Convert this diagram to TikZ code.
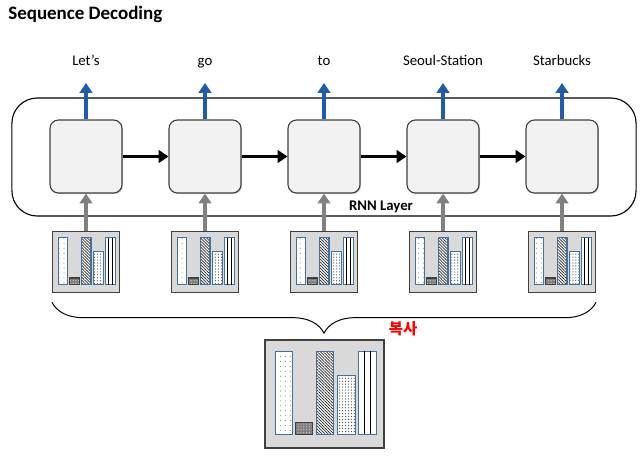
\documentclass[tikz,border=0pt]{standalone}
\usepackage{fontspec}
\setmainfont{Carlito}
\newfontfamily\kofont{Noto Sans CJK KR}
\usetikzlibrary{arrows.meta,patterns.meta,decorations.pathreplacing,shadows}
\definecolor{cellgray}{HTML}{F2F2F2}
\definecolor{boxgray}{HTML}{D9D9D9}
\definecolor{outblue}{HTML}{1F5CAD}
\definecolor{bargray}{HTML}{7F7F7F}
\definecolor{barline}{HTML}{41719C}
\definecolor{rnnarrow}{HTML}{808080}

\tikzset{
	bar/.style={draw=barline, line width=0.8pt},
	chart/.pic={
		% white bar, sparse dots
		\path[bar, preaction={fill=white}, pattern={Dots[radius=0.4pt,distance=3.5pt]}, pattern color=black!45] (11,12) rectangle (28,95);
		% small dark bar
		\path[bar, draw=black!75, preaction={fill=bargray}, pattern={Dots[radius=0.45pt,distance=2pt]}, pattern color=black!20] (31,83) rectangle (48,95);
		% hatched bar
		\path[bar, preaction={fill=white}, pattern={Lines[angle=-45,distance=1.5pt,line width=0.5pt]}, pattern color=black!85] (52,12) rectangle (69,95);
		% dense dots
		\path[bar, preaction={fill=white}, pattern={Dots[radius=0.45pt,distance=2.1pt]}, pattern color=black!70] (73,36) rectangle (91,95);
		% vertical lines
		\path[bar, fill=white] (94,12) rectangle (112,95);
		\draw[line width=0.7pt] (100,12) -- (100,95) (106,12) -- (106,95);
	}
}

\begin{document}
\begin{tikzpicture}[
		x=0.025cm, y=-0.025cm,
		every node/.style={inner sep=0},
		layer/.style={draw=black, line width=0.8pt, rounded corners=18pt, minimum width=15.6cm, minimum height=2.95cm},
		cell/.style={draw=black!75, line width=0.8pt, fill=cellgray, rounded corners=6pt, minimum width=1.8cm, minimum height=1.825cm,
			drop shadow={shadow xshift=0.8pt, shadow yshift=-0.8pt, opacity=0.35}},
		inbox/.style={draw=black!75, line width=0.8pt, fill=boxgray, minimum width=1.675cm, minimum height=1.525cm},
		word/.style={font=\fontsize{10.5pt}{12pt}\selectfont, text height=7.5pt, text depth=2pt},
		outarrow/.style={draw=outblue, line width=2.8pt, -{Triangle[length=7pt,width=9pt]}, shorten >=10pt},
		inarrow/.style={draw=rnnarrow, line width=2.8pt, -{Triangle[length=7pt,width=9pt]}},
		steparrow/.style={draw=black, line width=2.8pt, -{Triangle[length=7pt,width=9pt]}},
	]
	\useasboundingbox (0,0) rectangle (644,455);

	\node[anchor=west, font=\fontsize{13.5pt}{15pt}\selectfont\bfseries] (title) at (8,14) {Sequence Decoding};

	\node[layer] (rnn) at (324,157) {};
	\node[font=\fontsize{10.5pt}{12pt}\selectfont\bfseries] (rnnlabel) at (381,207) {RNN Layer};

	\foreach \x/\t [count=\i] in {86/Let’s, 205/go, 324/to, 443/Seoul-Station, 562/Starbucks} {
		\node[cell] (c\i) at (\x,156.5) {};
		\node[word] (o\i) at (\x,62) {\t};
		\node[inbox] (in\i) at (\x,262) {};
		\pic[scale=0.567] at (in\i.north west) {chart};
		\draw[outarrow] (c\i.north) -- (o\i.south);
		\draw[inarrow] (in\i.north) -- (c\i.south);
	}
	\foreach \i/\j in {1/2, 2/3, 3/4, 4/5}
		\draw[steparrow] (c\i.east) -- (c\j.west);

	% copied input
	\draw[line width=0.7pt, decorate, decoration={brace, mirror, amplitude=22pt}]
		([yshift=-6.5pt]in1.south west) -- ([yshift=-6.5pt]in5.south east);
	\node[text=red, font=\kofont\bfseries\fontsize{11pt}{13pt}\selectfont] (copy) at (403,329) {복사};
	\node[inbox, minimum width=2.975cm, minimum height=2.7cm] (big) at (324.5,394) {};
	\pic at (big.north west) {chart};
\end{tikzpicture}
\end{document}
